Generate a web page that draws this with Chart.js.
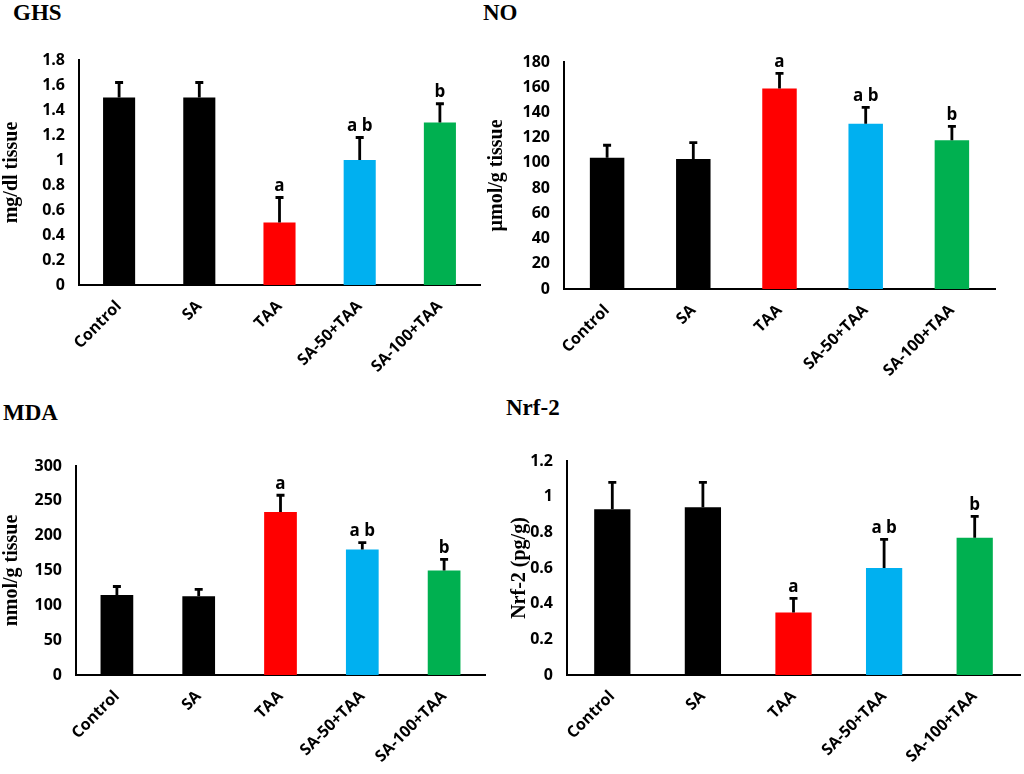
<!DOCTYPE html>
<html>
<head>
<meta charset="utf-8">
<script src="https://cdn.jsdelivr.net/npm/chart.js@4.4.0/dist/chart.umd.min.js"></script>
<style>
  html, body { margin: 0; padding: 0; background: #fff; }
  #page { position: relative; width: 1024px; height: 774px; overflow: hidden; }
  .box { position: absolute; }
  .panelTitle {
    position: absolute;
    font-family: "Liberation Serif", "Times New Roman", serif;
    font-weight: bold;
    font-size: 23px;
    color: #000;
  }
</style>
</head>
<body>
<div id="page">
  <div class="panelTitle" style="left:13px; top:0px;">GHS</div>
  <div class="panelTitle" style="left:483px; top:0px;">NO</div>
  <div class="panelTitle" style="left:3px; top:400px;">MDA</div>
  <div class="panelTitle" style="left:506px; top:395px;">Nrf-2</div>

  <div class="box" style="left:0px; top:0px; width:485px; height:390px;"><canvas id="ghsChart"></canvas></div>
  <div class="box" style="left:485px; top:0px; width:539px; height:390px;"><canvas id="noChart"></canvas></div>
  <div class="box" style="left:0px; top:400px; width:508px; height:374px;"><canvas id="mdaChart"></canvas></div>
  <div class="box" style="left:508px; top:400px; width:516px; height:374px;"><canvas id="nrfChart"></canvas></div>
</div>

<script>
// groups and bar colours
const groups = ['Control', 'SA', 'TAA', 'SA-50+TAA', 'SA-100+TAA'];
const barColors = ['#000000', '#000000', '#FF0000', '#00B0F0', '#00B050'];
const sigLetters = ['', '', 'a', 'a b', 'b'];

// GHS (mg/dl tissue)
const ghsMean = [1.5, 1.5, 0.5, 1.0, 1.3];
const ghsUpper = [1.62, 1.62, 0.7, 1.18, 1.45];
const ghsTicks = { max: 1.8, step: 0.2 };

// NO (µmol/g tissue)
const noMean = [104, 103, 159, 131, 118];
const noUpper = [114, 116, 171, 144, 129];
const noTicks = { max: 180, step: 20 };

// MDA (nmol/g tissue)
const mdaMean = [115, 113, 234, 180, 150];
const mdaUpper = [127, 123, 258, 190, 166];
const mdaTicks = { max: 300, step: 50 };

// Nrf-2 (pg/g)
const nrfMean = [0.93, 0.94, 0.35, 0.60, 0.77];
const nrfUpper = [1.08, 1.08, 0.43, 0.76, 0.89];
const nrfTicks = { max: 1.2, step: 0.2 };

// draws the upper error bar and the letter above each bar
const errorBarPlugin = {
    id: 'errorBars',
    afterDatasetsDraw(chart, args, opts) {
        const ctx = chart.ctx;
        const yScale = chart.scales.y;
        const meta = chart.getDatasetMeta(0);
        ctx.save();
        ctx.strokeStyle = '#000';
        ctx.lineWidth = 2.8;
        meta.data.forEach((bar, i) => {
            const yTop = yScale.getPixelForValue(opts.upper[i]);
            ctx.beginPath();
            ctx.moveTo(bar.x, bar.y);
            ctx.lineTo(bar.x, yTop);
            ctx.moveTo(bar.x - 4, yTop);
            ctx.lineTo(bar.x + 4, yTop);
            ctx.stroke();
            if (opts.letters[i]) {
                ctx.fillStyle = '#000';
                ctx.font = 'bold 17px "Open Sans", sans-serif';
                ctx.textAlign = 'center';
                ctx.textBaseline = 'bottom';
                ctx.fillText(opts.letters[i], bar.x, yTop - 3);
            }
        });
        ctx.restore();
    }
};

function makeChart(id, mean, upper, ticks, yTitle, box) {
    const ctx = document.getElementById(id).getContext('2d');
    return new Chart(ctx, {
        type: 'bar',
        data: {
            labels: groups,
            datasets: [{
                data: mean,
                backgroundColor: barColors,
                borderWidth: 0,
                categoryPercentage: 1.0,
                barPercentage: 0.4
            }]
        },
        options: {
            responsive: true,
            maintainAspectRatio: false,
            animation: false,
            layout: {
                padding: { top: box.top, right: box.right, left: 0, bottom: 0 }
            },
            scales: {
                x: {
                    grid: { display: false, drawTicks: false },
                    border: { display: true, color: '#000', width: 2 },
                    ticks: {
                        color: '#000',
                        font: { family: '"Open Sans", sans-serif', weight: 'bold', size: 16 },
                        minRotation: 45,
                        maxRotation: 45,
                        padding: 12,
                        autoSkip: false
                    },
                    afterFit: s => { s.height = box.xHeight; }
                },
                y: {
                    min: 0,
                    max: ticks.max,
                    grid: { display: false, drawTicks: false },
                    border: { display: true, color: '#000', width: 2 },
                    ticks: {
                        stepSize: ticks.step,
                        color: '#000',
                        font: { family: '"Open Sans", sans-serif', weight: 'bold', size: 16 },
                        padding: 14,
                        callback: v => String(+v.toFixed(2))
                    },
                    title: {
                        display: true,
                        text: yTitle,
                        color: '#000',
                        font: { family: '"Liberation Serif", "Times New Roman", serif', weight: 'bold', size: 20 },
                        padding: { top: 0, bottom: 0 }
                    },
                    afterFit: s => { s.width = box.yWidth; }
                }
            },
            plugins: {
                legend: { display: false },
                tooltip: { enabled: false },
                errorBars: { upper: upper, letters: box.letters }
            }
        },
        plugins: [errorBarPlugin]
    });
}

window.onload = function() {
    makeChart('ghsChart', ghsMean, ghsUpper, ghsTicks, 'mg/dl tissue',
        { top: 60, right: 5, xHeight: 105, yWidth: 79, letters: sigLetters });
    makeChart('noChart', noMean, noUpper, noTicks, 'µmol/g tissue',
        { top: 62, right: 29, xHeight: 101, yWidth: 79, letters: sigLetters });
    makeChart('mdaChart', mdaMean, mdaUpper, mdaTicks, 'nmol/g tissue',
        { top: 66, right: 23, xHeight: 99, yWidth: 76, letters: sigLetters });
    makeChart('nrfChart', nrfMean, nrfUpper, nrfTicks, 'Nrf-2 (pg/g)',
        { top: 61, right: 4, xHeight: 99, yWidth: 59, letters: sigLetters });
};
</script>
</body>
</html>
